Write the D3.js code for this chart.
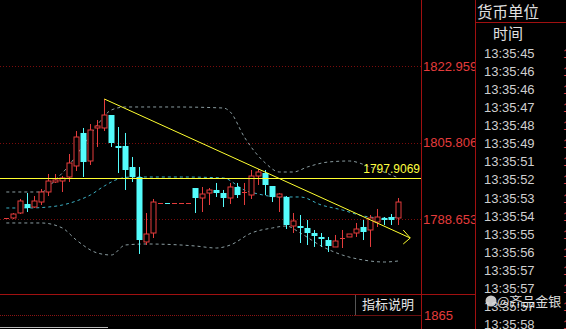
<!DOCTYPE html>
<html>
<head>
<meta charset="utf-8">
<script src="https://cdn.jsdelivr.net/npm/d3@7"></script>
<style>
  html, body { margin: 0; padding: 0; background: #000; overflow: hidden; }
  svg { display: block; }
</style>
</head>
<body>
<svg id="chart"></svg>
<script>
// 价格刻度
const priceTicks = [1822.959, 1805.806, 1788.653];
const refPrice = 1797.9069;
const volLabel = "1865";

// K线 [开, 高, 低, 收]
const opens  = [1788.88,1788.88,1790.00,1792.02,1791.34,1792.46,1794.71,1796.95,1797.17,1798.07,
                1800.54,1807.94,1801.66,1809.06,1809.06,1811.97,1805.02,1805.02,1800.31,1798.07,
                1783.50,1785.51,1792.24,1792.26,1792.24,1792.24,1792.24,1795.60,1793.36,1794.48,
                1795.16,1794.48,1793.36,1795.83,1794.48,1794.03,1798.29,1798.97,1796.05,1793.59,
                1793.59,1787.08,1787.08,1786.64,1785.51,1784.62,1783.94,1782.38,1784.17,1784.62,
                1785.51,1786.86,1786.19,1787.98,1788.88,1789.10,1788.88];
const highs  = [1788.88,1790.00,1793.14,1794.48,1793.81,1795.38,1798.74,1798.74,1798.29,1803.23,
                1808.38,1809.06,1809.95,1810.85,1815.56,1811.97,1809.28,1807.94,1802.56,1800.31,
                1790.00,1793.14,1792.24,1792.26,1792.24,1792.24,1792.24,1795.60,1795.83,1795.60,
                1796.73,1795.16,1796.73,1796.73,1796.73,1799.64,1799.86,1799.64,1796.05,1794.48,
                1793.81,1790.00,1789.55,1788.43,1786.19,1785.51,1784.62,1785.07,1786.19,1785.29,
                1787.76,1788.43,1789.55,1790.90,1789.10,1789.77,1793.36];
const lows   = [1788.88,1788.65,1789.77,1790.22,1791.12,1791.79,1793.81,1796.73,1794.71,1796.95,
                1799.42,1798.07,1800.76,1804.80,1808.38,1804.80,1798.97,1795.16,1796.95,1780.81,
                1782.82,1784.39,1792.24,1792.24,1792.24,1792.24,1792.24,1790.00,1790.22,1791.79,
                1793.59,1791.34,1792.02,1793.36,1791.79,1793.14,1796.28,1794.03,1792.46,1790.22,
                1786.41,1785.51,1783.27,1782.82,1782.38,1782.38,1781.25,1782.38,1782.15,1784.62,
                1784.62,1783.94,1782.38,1786.86,1787.31,1787.31,1787.31];
const closes = [1788.88,1789.77,1792.69,1791.12,1792.69,1794.71,1797.17,1797.40,1797.85,1801.21,
                1807.04,1801.43,1808.61,1809.51,1811.97,1805.69,1804.57,1799.64,1798.07,1783.94,
                1785.29,1792.46,1792.24,1792.24,1792.24,1792.24,1792.24,1793.36,1794.26,1795.16,
                1794.48,1793.36,1795.83,1794.03,1794.71,1798.29,1799.19,1796.28,1793.59,1794.26,
                1787.31,1788.21,1786.64,1785.51,1784.84,1784.17,1782.60,1783.72,1784.39,1785.29,
                1786.41,1785.74,1788.88,1789.10,1788.43,1788.43,1792.46];

// 布林带 [序号, 价格]
const upperBand = [[0,1794.71],[5,1794.71],[7,1797.40],[9,1800.76],[11,1805.25],[13,1809.73],[15,1813.09],
                   [17,1813.77],[24,1813.77],[31,1813.54],[32,1812.65],[34,1807.04],[37,1801.21],[39,1799.19],
                   [41,1799.19],[43,1800.31],[46,1801.43],[49,1801.66],[52,1800.31],[56,1797.85]];
const midBand   = [[0,1791.12],[3,1791.12],[6,1791.34],[8,1791.79],[10,1792.69],[12,1794.03],[14,1796.05],
                   [16,1797.62],[18,1798.07],[25,1798.07],[31,1797.85],[34,1795.16],[36,1794.26],[39,1793.59],
                   [42,1793.59],[45,1791.79],[48,1790.67],[51,1789.33],[54,1788.88],[56,1789.10]];
const lowerBand = [[0,1787.76],[5,1787.76],[8,1786.64],[10,1783.94],[13,1781.03],[15,1780.58],[17,1782.82],
                   [20,1783.05],[27,1782.60],[30,1782.15],[32,1782.82],[35,1785.51],[38,1786.64],[40,1787.08],
                   [42,1785.51],[45,1782.60],[48,1780.58],[51,1779.46],[54,1779.01],[56,1779.24]];

// 趋势线 [序号, 价格]
const trendLine = [[14,1815.56],[57.7,1784.39]];

// 右侧时间列
const times = ["13:35:45","13:35:46","13:35:46","13:35:47","13:35:48","13:35:49","13:35:51","13:35:52",
               "13:35:53","13:35:54","13:35:55","13:35:56","13:35:57","13:35:57","13:35:57","13:35:58"];

const W = 566, H = 329;
const plotW = 421, plotH = 294;
const RED = "#e43c3c", CYAN = "#54fcfc", LINE_RED = "#a01010";

const svg = d3.select("#chart").attr("width", W).attr("height", H);

const x = d3.scaleLinear().domain([-0.9, 59.24]).range([0, plotW]);
const y = d3.scaleLinear().domain([1788.653, 1822.959]).range([219, 66]);

const candles = opens.map((o, i) => ({ i, o, h: highs[i], l: lows[i], c: closes[i] }));

svg.append("defs").append("clipPath").attr("id", "plot")
  .append("rect").attr("width", plotW).attr("height", plotH);

const g = svg.append("g").attr("clip-path", "url(#plot)");

// 网格
g.selectAll(".grid")
  .data(priceTicks)
  .join("line")
  .attr("x1", 0).attr("x2", plotW)
  .attr("y1", d => Math.round(y(d)) + 0.5).attr("y2", d => Math.round(y(d)) + 0.5)
  .attr("stroke", "#7a0c0c").attr("stroke-dasharray", "1,2");

// 布林带
const band = d3.line().x(d => x(d[0])).y(d => y(d[1])).curve(d3.curveMonotoneX);
[[upperBand, "#8a9ca0"], [midBand, "#3cb0c4"], [lowerBand, "#8a9ca0"]].forEach(([pts, col]) => {
  g.append("path").attr("d", band(pts))
    .attr("fill", "none").attr("stroke", col).attr("stroke-dasharray", "3,3");
});

// K线
const bw = 5;
const ck = g.selectAll(".k").data(candles).join("g");
ck.each(function(d) {
  const s = d3.select(this);
  const cx = Math.round(x(d.i)) + 0.5;
  const up = d.c >= d.o;
  const col = up ? RED : CYAN;
  const top = y(Math.max(d.o, d.c)), bot = y(Math.min(d.o, d.c));
  s.append("line").attr("x1", cx).attr("x2", cx).attr("y1", y(d.h)).attr("y2", top).attr("stroke", col);
  s.append("line").attr("x1", cx).attr("x2", cx).attr("y1", bot).attr("y2", y(d.l)).attr("stroke", col);
  if (bot - top < 1.5) {
    s.append("line").attr("x1", cx - bw / 2).attr("x2", cx + bw / 2)
      .attr("y1", Math.round(top) + 0.5).attr("y2", Math.round(top) + 0.5).attr("stroke", col);
  } else if (up) {
    s.append("rect").attr("x", cx - bw / 2).attr("y", top).attr("width", bw).attr("height", bot - top)
      .attr("fill", "#000").attr("stroke", col);
  } else {
    s.append("rect").attr("x", cx - bw / 2 - 0.5).attr("y", top).attr("width", bw + 1).attr("height", bot - top)
      .attr("fill", col);
  }
});

// 参考价水平线
g.append("line")
  .attr("x1", 0).attr("x2", plotW)
  .attr("y1", Math.round(y(refPrice)) + 0.5).attr("y2", Math.round(y(refPrice)) + 0.5)
  .attr("stroke", "#ffff30");
svg.append("text")
  .attr("x", 420).attr("y", y(refPrice) - 5)
  .attr("text-anchor", "end")
  .attr("fill", "#ffff40")
  .attr("font-family", "Liberation Sans, Arial, sans-serif")
  .attr("font-size", 12)
  .text(refPrice.toFixed(4));

// 趋势线 + 箭头
const [p0, p1] = trendLine.map(d => [x(d[0]), y(d[1])]);
g.append("line").attr("x1", p0[0]).attr("y1", p0[1]).attr("x2", p1[0]).attr("y2", p1[1])
  .attr("stroke", "#ffff30");
g.append("path")
  .attr("d", `M${p1[0] - 7},${p1[1] - 8}L${p1[0]},${p1[1]}L${p1[0] - 7},${p1[1] + 6}`)
  .attr("fill", "none").attr("stroke", "#ffff30");

// 价格轴
const axis = svg.append("g")
  .attr("transform", `translate(${plotW},0)`)
  .call(d3.axisRight(y).tickValues(priceTicks).tickSize(0).tickPadding(2).tickFormat(d3.format(".3f")));
axis.select(".domain").remove();
axis.selectAll("text")
  .attr("fill", RED)
  .attr("font-family", "Liberation Sans, Arial, sans-serif")
  .attr("font-size", 13);

svg.append("rect").attr("x", 475).attr("y", 0).attr("width", W - 475).attr("height", H).attr("fill", "#000");

// 分隔线
svg.append("line").attr("x1", 0).attr("x2", 475).attr("y1", 294.5).attr("y2", 294.5).attr("stroke", LINE_RED);
svg.append("line").attr("x1", 0).attr("x2", 355).attr("y1", 315.5).attr("y2", 315.5)
  .attr("stroke", "#8a1414").attr("stroke-dasharray", "1,1");
svg.append("line").attr("x1", 421.5).attr("x2", 421.5).attr("y1", 0).attr("y2", H).attr("stroke", LINE_RED);
svg.append("line").attr("x1", 475.5).attr("x2", 475.5).attr("y1", 0).attr("y2", H).attr("stroke", LINE_RED);
svg.append("line").attr("x1", 475).attr("x2", W).attr("y1", 22.5).attr("y2", 22.5).attr("stroke", LINE_RED);
svg.append("line").attr("x1", 0).attr("x2", 108).attr("y1", 327.5).attr("y2", 327.5).attr("stroke", "#bbb");

// 指标说明
svg.append("line").attr("x1", 355.5).attr("x2", 355.5).attr("y1", 295).attr("y2", 315).attr("stroke", "#555");
svg.append("line").attr("x1", 355).attr("x2", 421).attr("y1", 315.5).attr("y2", 315.5).attr("stroke", "#6a1010");
svg.append("text").attr("x", 388).attr("y", 309).attr("text-anchor", "middle")
  .attr("fill", "#e6e6e6").attr("font-family", "Noto Sans CJK SC, sans-serif").attr("font-size", 13)
  .text("指标说明");

svg.append("text").attr("x", 424).attr("y", 319.5)
  .attr("fill", RED).attr("font-family", "Liberation Sans, Arial, sans-serif").attr("font-size", 13)
  .text(volLabel);

// 右侧面板
svg.append("text").attr("x", 477).attr("y", 18)
  .attr("fill", "#e0e0e0").attr("font-family", "Noto Sans CJK SC, sans-serif").attr("font-size", 15.5)
  .text("货币单位");
svg.append("text").attr("x", 508).attr("y", 39).attr("text-anchor", "middle")
  .attr("fill", "#e0e0e0").attr("font-family", "Noto Sans CJK SC, sans-serif").attr("font-size", 15)
  .text("时间");

const rowY = d3.scaleLinear().domain([0, times.length - 1]).range([53, 324]);
svg.selectAll(".t").data(times).join("text")
  .attr("x", 484).attr("y", (d, i) => rowY(i) + 5)
  .attr("fill", "#cfcfcf").attr("font-family", "Liberation Sans, Arial, sans-serif").attr("font-size", 13)
  .text(d => d);
svg.selectAll(".p").data(times).join("text")
  .attr("x", 563).attr("y", (d, i) => rowY(i) + 5)
  .attr("fill", RED).attr("font-family", "Liberation Sans, Arial, sans-serif").attr("font-size", 13)
  .text("1797");

// 水印
const wm = svg.append("g").attr("opacity", 0.9);
wm.append("circle").attr("cx", 491).attr("cy", 301).attr("r", 5.5).attr("fill", "#ddd");
wm.append("text").attr("x", 497).attr("y", 306)
  .attr("fill", "#f4f4f4").attr("font-family", "Noto Sans CJK SC, sans-serif").attr("font-size", 13)
  .text("@齐品金银");
</script>
</body>
</html>
